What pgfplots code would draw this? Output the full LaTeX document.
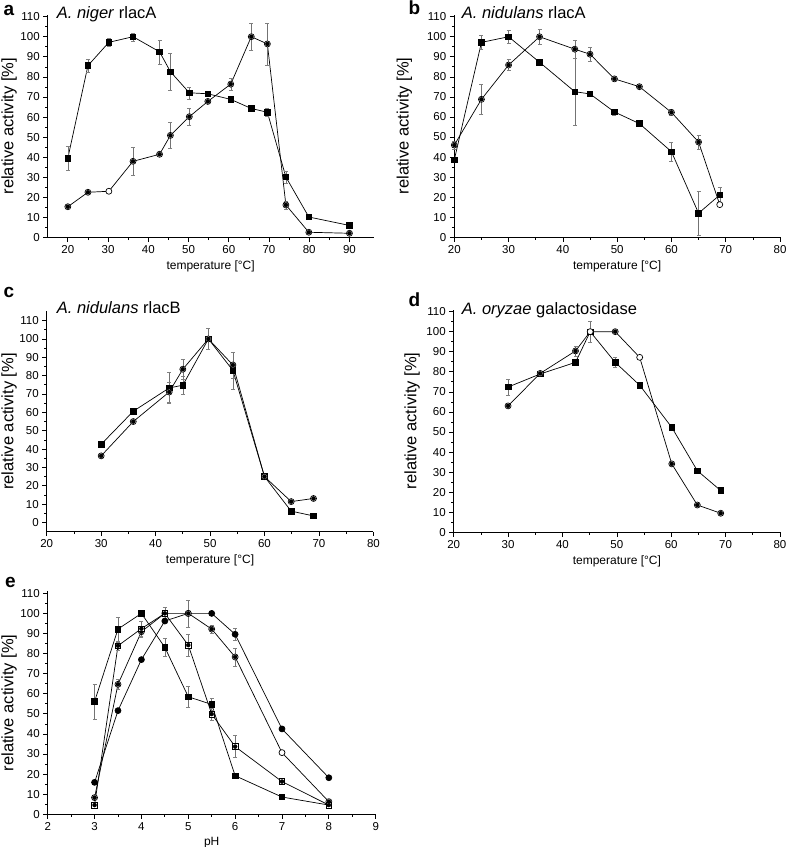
\documentclass[border=0pt]{standalone}
\usepackage{fontspec}
\setmainfont{Liberation Sans}
\usepackage{pgfplots}
\usepackage{pgfplotstable}
\pgfplotsset{compat=1.18}

% panel a: A. niger rlacA
\pgfplotstableread{
x y e
20 39.5 6
25 85.6 3
30.2 97.2 2
36.2 100 2
42.8 92.5 6
45.5 82.6 9
50.2 72.1 3
54.8 71.6 0
60.5 68.8 0
65.6 64.3 1
69.6 62.4 2
74.2 30.2 3
79.9 10.3 0
90 6.1 0
}\aSq
\pgfplotstableread{
x y e
20 15.4 0.25
25 22.6 0.25
30.2 23.1 0
36.2 38.0 7
42.8 41.5 0.25
45.5 50.9 6.5
50.2 60.2 4
54.8 67.8 0.25
60.5 76.4 3
65.6 100 6.5
69.6 96.4 10.5
74.2 16.3 2
79.9 2.7 0.25
90 2.2 0.25
}\aCi
% panel b: A. nidulans rlacA
\pgfplotstableread{
x y e
20 38.6 0
25 97.2 3.6
30 100 3.2
35.7 87.3 0
42.2 72.6 16.6
45 71.5 0
49.5 62.5 1.5
54.1 56.7 0
60 42.7 4.5
65 12 11
68.9 21.1 3.7
}\bSq
\pgfplotstableread{
x y e
20 46 2
25 68.8 7.6
30 85.9 2.7
35.7 100 3.7
42.2 93.8 4.6
45 91.3 3.7
49.5 79 0.25
54.1 75.1 0.25
60 62.3 1.5
65 47.5 3.5
68.9 16.3 0
}\bCi
% panel c: A. nidulans rlacB
\pgfplotstableread{
x y e
30 42.6 1.5
35.9 60.6 0
42.5 73.3 8.5
45 74.8 5
49.7 100 5.7
54.2 82.8 10
60 25 0
64.9 6.2 0
69 3.6 0
}\cSq
\pgfplotstableread{
x y e
30 36.3 0.25
35.9 55 0.25
42.5 71.1 5.5
45 83.5 5.5
49.7 100 0.25
54.2 85.8 7
60 25 0.25
64.9 11.4 0.25
69 13.1 0.25
}\cCi
% panel d: A. oryzae galactosidase
\pgfplotstableread{
x y e
30 72.4 4
35.9 78.9 0
42.4 84.7 0
45.1 100 5
49.7 84.7 2.5
54.2 73.3 0
60.1 52.3 0
64.8 30.7 0
69.1 20.8 0
}\dSq
\pgfplotstableread{
x y e
30 63 0.25
35.9 79.2 0.25
42.4 90.4 2.5
45.1 100 0
49.7 100 0.25
54.2 87.2 0
60.1 34.1 0.25
64.8 13.6 0.25
69.1 9.5 0.25
}\dCi
% panel e: pH
\pgfplotstableread{
x y e
3 56.1 8.7
3.5 92.2 6
4 100 0
4.5 83.1 4.5
5 58.5 5.3
5.5 54.7 3
6 19.2 1
7 8.6 0
8 4.6 0
}\eSq
\pgfplotstableread{
x y e
3 15.9 0
3.5 51.6 0
4 77 0
4.5 96.2 0
5 100 0
5.5 100 0
6 89.6 3
7 42.5 0
8 18.2 0
}\eDot
\pgfplotstableread{
x y e
3 8.3 0.25
3.5 64.7 2.5
4 90.9 2.5
4.5 100 3
5 100 6.8
5.5 92.2 2
6 78.3 4.5
7 30.7 0
8 6.3 0.25
}\eCi
\pgfplotstableread{
x y e
3 4.6 0.25
3.5 83.9 2
4 92.4 3.5
4.5 100 3
5 84.2 5.5
5.5 49.9 3
6 33.7 5.5
7 16.3 0.25
8 4.6 0.25
}\eOsq

\pgfplotsset{
  panel/.style={
    scale only axis,
    anchor=south west,
    axis x line=bottom, axis y line=left,
    axis line style={-, line width=0.8pt},
    tick align=outside,
    major tick length=4.5pt, minor tick length=2.5pt,
    every tick/.style={black, line width=0.7pt},
    minor x tick num=1, minor y tick num=1,
    ytick={0,10,...,110},
    /pgf/number format/assume math mode=true,
    tick label style={font=\fontsize{11.5}{12}\selectfont},
    ylabel={relative activity [\%]},
    ylabel style={font=\fontsize{16.5}{17}\selectfont},
    xlabel style={font=\fontsize{12}{13}\selectfont},
    clip=false,
  },
  ylab/.style={ylabel style={at={([xshift=#1]axis description cs:0,0.5)}, anchor=center}},
  sq/.style={black, line width=0.7pt, mark=square*, mark size=2.8pt,
    mark options={solid, fill=black}},
  osq/.style={black, line width=0.7pt, mark=square*, mark size=2.8pt,
    mark options={solid, fill=white}},
  dot/.style={black, line width=0.7pt, mark=*, mark size=3pt,
    mark options={solid, fill=black}},
  ci/.style={black, line width=0.7pt, mark=*, mark size=3pt,
    mark options={solid, fill=white}},
  eb/.style={only marks, mark=none, forget plot,
    restrict expr to domain={\thisrow{e}}{0.01:1000},
    error bars/.cd, y dir=both, y explicit,
    error bar style={draw=black!55, line width=0.45pt},
    error mark options={rotate=90, mark size=2pt, draw=black!50, line width=0.35pt}},
}

\newcommand{\series}[2]{%
  \addplot[#1] table[x=x, y=y] {#2};
  \addplot[eb] table[x=x, y=y, y error=e] {#2};
}

\begin{document}
\begin{tikzpicture}
\path[use as bounding box] (0,0) rectangle (787pt,847pt);

% a
\begin{axis}[panel, ylab=-38.7pt, at={(47.7pt,609.3pt)}, width=325.9pt, height=223.1pt,
  xmin=15, xmax=96, ymin=0, ymax=111, xtick={20,30,...,90},
  xlabel={temperature [°C]}]
\series{sq}{\aSq}
\series{ci}{\aCi}
\end{axis}

% b
\begin{axis}[panel, ylab=-50pt, at={(454.3pt,609.7pt)}, width=325.7pt, height=222.6pt,
  xmin=20, xmax=80, ymin=0, ymax=111, xtick={20,30,...,80},
  xlabel={temperature [°C]}]
\series{sq}{\bSq}
\series{ci}{\bCi}
\end{axis}

% c
\begin{axis}[panel, ylab=-37.7pt, at={(46.7pt,315.3pt)}, width=326.7pt, height=220.3pt,
  xmin=20, xmax=80, ymin=-5, ymax=115, xtick={20,30,...,80},
  xlabel={temperature [°C]}]
\series{sq}{\cSq}
\series{ci}{\cCi}
\end{axis}

% d
\begin{axis}[panel, ylab=-41.7pt, at={(453.7pt,314.7pt)}, width=326.3pt, height=222.7pt,
  xmin=20, xmax=80, ymin=0, ymax=111, xtick={20,30,...,80},
  xlabel={temperature [°C]}]
\series{sq}{\dSq}
\series{ci}{\dCi}
\end{axis}

% e
\begin{axis}[panel, ylab=-38.7pt, at={(47.7pt,32.7pt)}, width=328pt, height=223pt,
  xmin=2, xmax=9, ymin=0, ymax=111, xtick={2,...,9},
  xlabel={pH}]
\series{sq}{\eSq}
\series{dot}{\eDot}
\series{ci}{\eCi}
\series{osq}{\eOsq}
\end{axis}

% panel letters and titles
\begin{scope}[every node/.style={inner sep=0pt, anchor=base west}]
\node[font=\fontsize{19}{19}\selectfont\bfseries] at (3.3pt,831.3pt) {a};
\node[font=\fontsize{19}{19}\selectfont\bfseries] at (408.3pt,832pt) {b};
\node[font=\fontsize{19}{19}\selectfont\bfseries] at (3.3pt,549.7pt) {c};
\node[font=\fontsize{19}{19}\selectfont\bfseries] at (408.3pt,540.3pt) {d};
\node[font=\fontsize{19}{19}\selectfont\bfseries] at (5pt,259.7pt) {e};
\node[font=\fontsize{16.5}{17}\selectfont] at (56.7pt,828.7pt) {\textit{A. niger} rlacA};
\node[font=\fontsize{16.5}{17}\selectfont] at (461.7pt,828pt) {\textit{A. nidulans} rlacA};
\node[font=\fontsize{16.5}{17}\selectfont] at (56.7pt,533.7pt) {\textit{A. nidulans} rlacB};
\node[font=\fontsize{16.5}{17}\selectfont] at (461.7pt,532.7pt) {\textit{A. oryzae} galactosidase};
\end{scope}
\end{tikzpicture}
\end{document}
